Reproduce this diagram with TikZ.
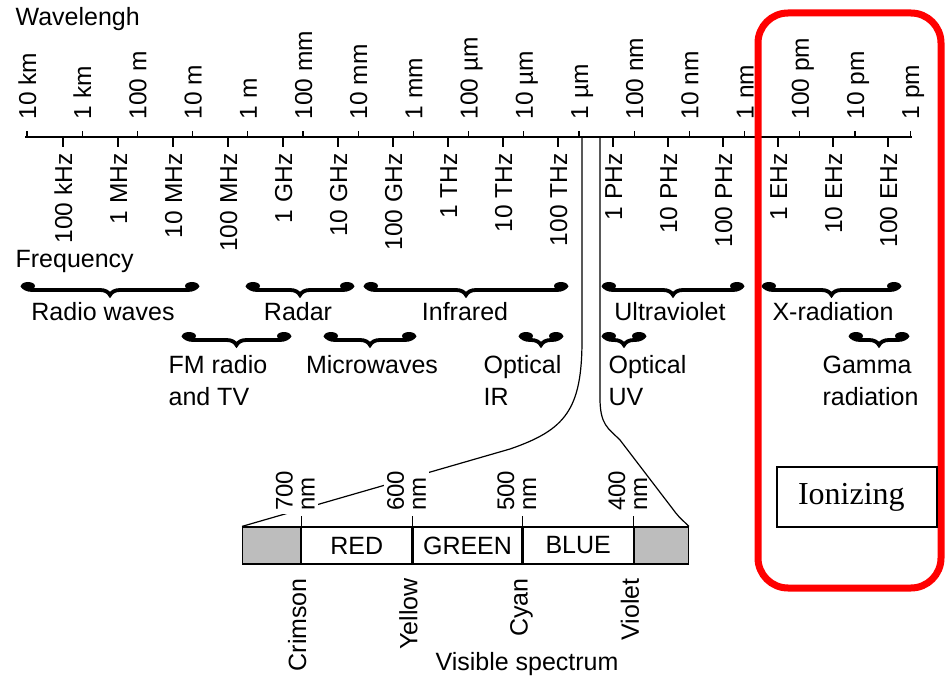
\documentclass[tikz,border=0pt]{standalone}
\usepackage{fontspec}
\setmainfont{Liberation Sans}
\newfontfamily\ionfont{Liberation Serif}
\usetikzlibrary{positioning, calc, decorations.pathreplacing}
\definecolor{ionred}{HTML}{FF0000}
\definecolor{bandgray}{HTML}{BDBDBD}

\begin{document}
\begin{tikzpicture}[x=1pt, y=-1pt, line width=1.2pt,
      every node/.style={inner sep=0pt, font=\fontsize{25}{32}\selectfont},
      scalelabel/.style={rotate=90, text height=18pt, text depth=0pt, font=\fontsize{24.5}{28}\selectfont},
      hue/.style={rotate=90, anchor=east, text height=18pt, text depth=0pt},
      nmlabel/.style={rotate=90, align=left, fill=white, inner sep=3pt, font=\fontsize{24}{22}\selectfont},
      band/.style={draw, minimum height=37pt},
      brc/.style={decorate, decoration={brace, mirror, amplitude=10pt}, line width=3.8pt}]
    \useasboundingbox (0,0) rectangle (945,676);
    \node[anchor=base west] (wl-title) at (15,26) {Wavelengh};
    \node[anchor=base west] (fq-title) at (15,268) {Frequency};

    % wavelength above the scale, frequency below it
    \draw[line width=1.6pt] (25,137) -- (912,137);
    \foreach \lab [count=\i from 0] in {10 km, 1 km, 100 m, 10 m, 1 m, 100 mm, 10 mm, 1 mm, 100 µm, 10 µm, 1 µm, 100 nm, 10 nm, 1 nm, 100 pm, 10 pm, 1 pm} {
      \draw (27+55.2*\i,137) -- ++(0,-6);
      \node[scalelabel, anchor=west] (wl-\i) at (27+55.2*\i,120) {\lab};
    }
    \foreach \lab [count=\i from 0] in {100 kHz, 1 MHz, 10 MHz, 100 MHz, 1 GHz, 10 GHz, 100 GHz, 1 THz, 10 THz, 100 THz, 1 PHz, 10 PHz, 100 PHz, 1 EHz, 10 EHz, 100 EHz} {
      \draw (63+55*\i,137) -- ++(0,10);
      \node[scalelabel, anchor=east] (fq-\i) at (63+55*\i,153) {\lab};
    }

    % bands
    \foreach \a/\b/\y in {22/198/285, 247/353/285, 365/567/285, 603/743/285, 763/900/285,
                          183/290/335, 325/415/335, 520/562/335, 603/645/335, 850/908/335} {
      \draw[brc] (\a,\y) -- (\b,\y);
      \fill (\a+6,\y+1) ellipse (7pt and 4pt);
      \fill (\b-6,\y+1) ellipse (7pt and 4pt);
    }
    \node[anchor=base] (radio) at (103,320) {Radio waves};
    \node[anchor=base] (radar) at (298,320) {Radar};
    \node[anchor=base] (ir) at (465,320) {Infrared};
    \node[anchor=base] (uv) at (670,320) {Ultraviolet};
    \node[anchor=base] (xray) at (833,320) {X-radiation};
    \node[anchor=base west, align=left] (fm) at (168,405) {FM radio\\and TV};
    \node[anchor=base] (micro) at (372,373) {Microwaves};
    \node[anchor=base west, align=left] (opt-ir) at (483,405) {Optical\\IR};
    \node[anchor=base west, align=left] (opt-uv) at (608,405) {Optical\\UV};
    \node[anchor=base west, align=left] (gamma) at (822,405) {Gamma\\radiation};

    % visible spectrum
    \node[band, fill=bandgray, minimum width=58pt, anchor=west] (lowend) at (242,545.5) {};
    \node[band, minimum width=110pt, right=0pt of lowend] (red) {RED};
    \node[band, minimum width=109pt, right=0pt of red] (green) {GREEN};
    \node[band, minimum width=110pt, right=0pt of green] (blue) {BLUE};
    \node[band, fill=bandgray, minimum width=54pt, right=0pt of blue] (highend) {};
    \foreach \b in {lowend, red, green, blue}
      \draw (\b.north east) -- ++(0,-10);

    \coordinate (um-lo) at (582,137);
    \coordinate (um-hi) at (600,137);
    \draw (um-lo) -- (582,340) .. controls (582,410) and (565,430) .. (510,449) -- (lowend.north west);

    \node[nmlabel, above right=12pt and 17pt of lowend.north east] (nm-700) {700\\nm};
    \node[nmlabel, above right=12pt and 17pt of red.north east] (nm-600) {600\\nm};
    \node[nmlabel, above right=12pt and 17pt of green.north east] (nm-500) {500\\nm};
    \node[nmlabel, above right=12pt and 17pt of blue.north east] (nm-400) {400\\nm};
    \draw (um-hi) -- (600,398) .. controls (600,425) and (608,428) .. (620,440) -- (672,508) .. controls (678,516) .. (highend.north east);
    \node[hue] (crimson) at ($(lowend.south east)+(-4,13)$) {Crimson};
    \node[hue] (yellow) at ($(red.south east)+(-4,13)$) {Yellow};
    \node[hue] (cyan) at ($(green.south east)+(-4,13)$) {Cyan};
    \node[hue] (violet) at ($(blue.south east)+(-4,13)$) {Violet};
    \node[anchor=base] (vis) at (527,670) {Visible spectrum};

    % ionizing part
    \draw[ionred, line width=7pt, rounded corners=30pt] (758,13) rectangle (941,588);
    \node[draw, line width=1.2pt, text width=118pt, align=left, inner xsep=21pt, minimum height=60pt,
          font=\ionfont\fontsize{32}{38}\selectfont] (ionizing) at (857,497) {Ionizing};
  \end{tikzpicture}
\end{document}
